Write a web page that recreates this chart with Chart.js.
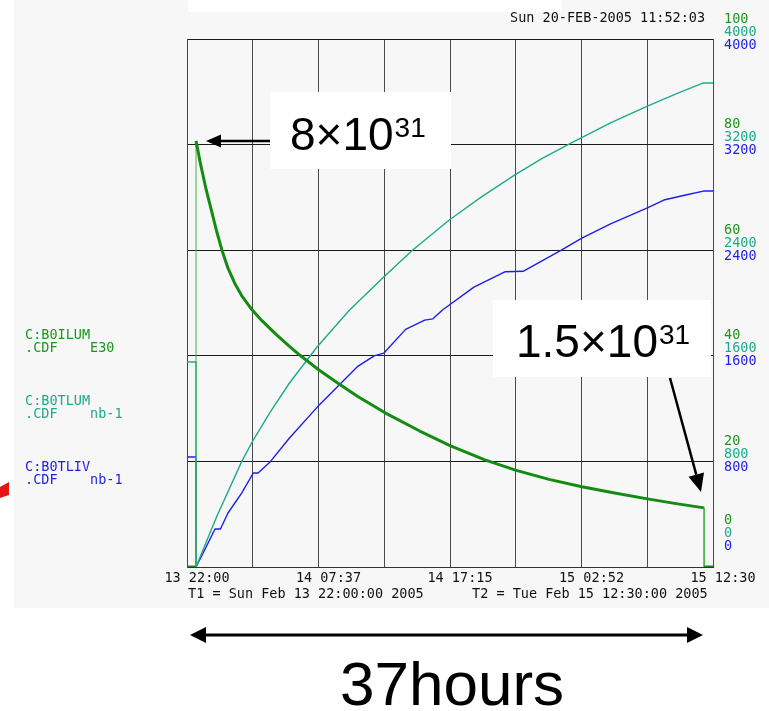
<!DOCTYPE html>
<html>
<head>
<meta charset="utf-8">
<title>Luminosity store</title>
<script src="https://cdn.jsdelivr.net/npm/chart.js@4.4.0/dist/chart.umd.min.js"></script>
<style>
  body { margin: 0; background: #fff; }
  #wrap { width: 769px; height: 711px; }
</style>
</head>
<body>
<div id="wrap"><canvas id="chart" width="769" height="711"></canvas></div>
<script>
// Store luminosity (E30) and integrated luminosity (nb-1) vs hours since T1

// Instantaneous luminosity, C:B0ILUM, units of 1e30
const lumHours  = [0, 0.66, 0.66, 1.0, 1.4, 1.8, 2.2, 2.56, 3.0, 3.5, 4.0, 4.76, 5.5, 6.5, 7.5, 8.27, 9.66, 11, 12.5, 14.5, 17, 19.25, 21.8, 24.1, 26.5, 28.9, 31.3, 33.7, 35.8, 37.85, 37.85, 38.5];
const lumValues = [0, 0, 80.7, 76.2, 71.5, 67.4, 63.3, 60.0, 56.6, 53.7, 51.4, 48.7, 46.6, 44.1, 41.8, 40.1, 37.3, 34.9, 32.3, 29.2, 25.8, 23.0, 20.3, 18.3, 16.6, 15.2, 14.0, 12.9, 12.0, 11.2, 0, 0];

// Integrated luminosity, C:B0TLUM, nb-1
const tlumHours  = [0, 0.66, 0.66, 2.17, 4.0, 4.85, 6.1, 7.5, 9.5, 11.9, 14.4, 16.5, 19.2, 21.5, 24.0, 26.0, 28.1, 31.0, 33.7, 35.8, 37.8, 38.5];
const tlumValues = [1553, 1553, 0, 381, 798, 962, 1175, 1394, 1665, 1947, 2197, 2400, 2629, 2800, 2970, 3095, 3212, 3365, 3492, 3585, 3667, 3667];

// Integrated live luminosity, C:B0TLIV, nb-1
const tlivHours  = [0, 0.66, 0.66, 1.2, 1.68, 2.05, 2.45, 3.0, 4.0, 4.85, 5.2, 6.1, 7.5, 9.7, 12.5, 13.7, 14.4, 16.0, 17.4, 18.0, 18.7, 21.0, 23.3, 24.6, 27.4, 28.9, 31.0, 33.7, 34.9, 36.5, 37.8, 38.5];
const tlivValues = [833, 833, 0, 110, 210, 288, 288, 409, 560, 712, 712, 798, 977, 1230, 1520, 1600, 1620, 1800, 1870, 1880, 1947, 2120, 2237, 2240, 2400, 2492, 2600, 2720, 2780, 2818, 2848, 2848];

// axis ticks
const timeLabels = ['13 22:00', '14 07:37', '14 17:15', '15 02:52', '15 12:30'];
const lumTicks = [0, 20, 40, 60, 80, 100];
const intTicks = [0, 800, 1600, 2400, 3200, 4000];
const channels = [
  ['C:B0ILUM', '.CDF    E30'],
  ['C:B0TLUM', '.CDF    nb-1'],
  ['C:B0TLIV', '.CDF    nb-1']
];

const GREEN = 'rgb(20,140,20)';
const GREEN_LT = 'rgb(70,180,70)';
const GREEN_TXT = 'rgb(30,150,30)';
const TEAL = 'rgb(30,170,140)';
const BLUE = 'rgb(30,30,235)';
const PANEL = '#f7f7f7';
const MONO = '13.5px "DejaVu Sans Mono", monospace';
const SANS = '"Liberation Sans", Arial, Helvetica, sans-serif';

function toPoints(xs, ys) {
  return xs.map((x, i) => ({ x: x, y: ys[i] }));
}

function arrow(ctx, x0, y0, x1, y1, headLen, headHalf) {
  const ang = Math.atan2(y1 - y0, x1 - x0);
  const bx = x1 - headLen * Math.cos(ang);
  const by = y1 - headLen * Math.sin(ang);
  ctx.beginPath();
  ctx.moveTo(x0, y0);
  ctx.lineTo(bx, by);
  ctx.stroke();
  ctx.beginPath();
  ctx.moveTo(x1, y1);
  ctx.lineTo(bx + headHalf * Math.sin(ang), by - headHalf * Math.cos(ang));
  ctx.lineTo(bx - headHalf * Math.sin(ang), by + headHalf * Math.cos(ang));
  ctx.closePath();
  ctx.fill();
}

function powerLabel(ctx, base, exp, x, y, size) {
  ctx.textAlign = 'left';
  ctx.textBaseline = 'alphabetic';
  ctx.font = size + 'px ' + SANS;
  ctx.fillText(base, x, y);
  const w = ctx.measureText(base).width;
  ctx.font = Math.round(size * 0.6) + 'px ' + SANS;
  ctx.fillText(exp, x + w + 1, y - size * 0.29);
}

const backdrop = {
  id: 'backdrop',
  beforeDraw(chart) {
    const ctx = chart.ctx;
    ctx.save();
    ctx.fillStyle = '#fff';
    ctx.fillRect(0, 0, chart.width, chart.height);
    ctx.fillStyle = PANEL;
    ctx.fillRect(14, 0, chart.width - 14, 608);
    ctx.fillStyle = '#fff';
    ctx.fillRect(188, 0, 374, 12);
    ctx.restore();
  }
};

const decorations = {
  id: 'decorations',
  afterDraw(chart) {
    const ctx = chart.ctx;
    const yL = chart.scales.yL;
    ctx.save();

    // right-hand stacked scale labels
    ctx.font = MONO;
    ctx.textAlign = 'left';
    ctx.textBaseline = 'middle';
    lumTicks.forEach((v, i) => {
      const y = yL.getPixelForValue(v) + (i === 0 ? -27 : 0);
      ctx.fillStyle = GREEN_TXT;
      ctx.fillText(String(v), 724, y - 20);
      ctx.fillStyle = TEAL;
      ctx.fillText(String(intTicks[i]), 724, y - 7);
      ctx.fillStyle = BLUE;
      ctx.fillText(String(intTicks[i]), 724, y + 6);
    });

    // channel names on the left
    const chanColors = [GREEN_TXT, TEAL, BLUE];
    const chanY = [335, 401, 467];
    channels.forEach((c, i) => {
      ctx.fillStyle = chanColors[i];
      ctx.fillText(c[0], 25, chanY[i]);
      ctx.fillText(c[1], 25, chanY[i] + 13);
    });

    // timestamp and time range
    ctx.fillStyle = '#111';
    ctx.fillText('Sun 20-FEB-2005 11:52:03', 510, 18);
    ctx.fillText('T1 = Sun Feb 13 22:00:00 2005', 188, 594);
    ctx.fillText('T2 = Tue Feb 15 12:30:00 2005', 472, 594);

    // red marker at the left edge
    ctx.fillStyle = 'rgb(230,20,20)';
    ctx.beginPath();
    ctx.moveTo(0, 487);
    ctx.lineTo(9, 482);
    ctx.lineTo(9, 495);
    ctx.lineTo(0, 498);
    ctx.closePath();
    ctx.fill();

    // annotation boxes
    ctx.fillStyle = '#fff';
    ctx.fillRect(270, 92, 181, 77);
    ctx.fillRect(493, 300, 218, 77);

    ctx.fillStyle = '#000';
    ctx.strokeStyle = '#000';
    powerLabel(ctx, '8\u00d710', '31', 290, 150, 46);
    powerLabel(ctx, '1.5\u00d710', '31', 516, 357, 46);

    ctx.lineWidth = 2.5;
    arrow(ctx, 270, 141, 206, 141, 15, 6.5);
    arrow(ctx, 670, 378, 701, 492, 18, 8);

    // span arrow and caption
    ctx.lineWidth = 3;
    arrow(ctx, 446, 635, 190, 635, 16, 8);
    arrow(ctx, 446, 635, 703, 635, 16, 8);
    ctx.font = '62px ' + SANS;
    ctx.textAlign = 'center';
    ctx.textBaseline = 'alphabetic';
    ctx.fillText('37hours', 452, 705);

    ctx.restore();
  }
};

function initChart() {
  const ctx = document.getElementById('chart').getContext('2d');
  new Chart(ctx, {
    type: 'line',
    data: {
      datasets: [
        {
          label: 'C:B0ILUM',
          data: toPoints(lumHours, lumValues),
          yAxisID: 'yL',
          borderColor: GREEN,
          borderWidth: 3,
          segment: {
            borderWidth: c => c.p0.parsed.x === c.p1.parsed.x ? 1 : 3,
            borderColor: c => c.p0.parsed.x === c.p1.parsed.x ? GREEN_LT : GREEN
          }
        },
        {
          label: 'C:B0TLUM',
          data: toPoints(tlumHours, tlumValues),
          yAxisID: 'yI',
          borderColor: TEAL,
          borderWidth: 1.4
        },
        {
          label: 'C:B0TLIV',
          data: toPoints(tlivHours, tlivValues),
          yAxisID: 'yI',
          borderColor: BLUE,
          borderWidth: 1.4
        }
      ]
    },
    options: {
      responsive: false,
      animation: false,
      events: [],
      layout: { padding: { left: 187, right: 56, top: 39, bottom: 120 } },
      elements: {
        point: { radius: 0 },
        line: { tension: 0, borderCapStyle: 'butt', borderJoinStyle: 'round' }
      },
      plugins: {
        legend: { display: false },
        tooltip: { enabled: false }
      },
      scales: {
        x: {
          type: 'linear',
          min: 0,
          max: 38.5,
          afterFit: s => { s.height = 24; },
          border: { color: '#333', width: 1 },
          grid: { color: '#4a4a4a', lineWidth: 1, drawTicks: false },
          ticks: {
            stepSize: 4.8125,
            autoSkip: false,
            maxRotation: 0,
            padding: 3,
            labelOffset: 10,
            color: '#111',
            font: { family: '"DejaVu Sans Mono", monospace', size: 13.5 },
            callback: (v, i) => (i % 2 === 0 ? timeLabels[i / 2] : '')
          }
        },
        yL: {
          type: 'linear',
          position: 'left',
          min: 0,
          max: 100,
          afterFit: s => { s.width = 0; },
          border: { color: '#444', width: 1 },
          grid: { color: '#1a1a1a', lineWidth: 1, drawTicks: false },
          ticks: { stepSize: 20, display: false }
        },
        yI: {
          type: 'linear',
          position: 'right',
          min: 0,
          max: 4000,
          display: false
        }
      }
    },
    plugins: [backdrop, decorations]
  });
}

document.addEventListener('DOMContentLoaded', initChart);
</script>
</body>
</html>
